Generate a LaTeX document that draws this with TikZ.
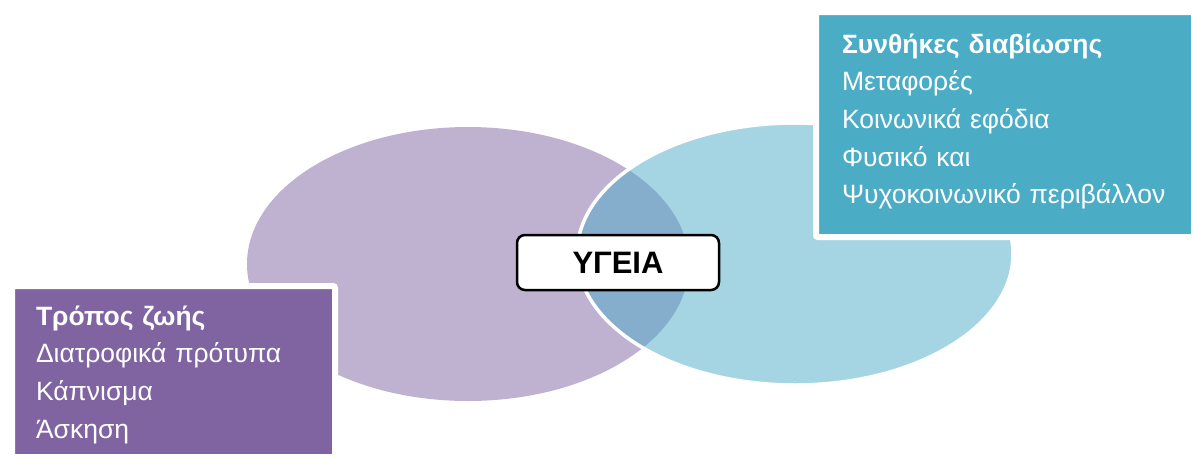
\documentclass[tikz,border=0pt]{standalone}
\usepackage{fontspec}
\setmainfont{Liberation Sans}
\usetikzlibrary{shapes.geometric,shadows}
\definecolor{lifeviolet}{HTML}{8064A2}
\definecolor{livingaqua}{HTML}{4BACC6}

\begin{document}
\begin{tikzpicture}[x=1pt, y=-1pt,
        blob/.style = {ellipse, inner sep=0pt, fill opacity=0.5},
        panel/.style = {rectangle, draw=white, line width=6pt, rounded corners=2pt,
            text=white, align=left, inner ysep=0pt, text height=22pt,
            drop shadow={opacity=0.3, shadow xshift=1pt, shadow yshift=-2.5pt}},
        listfont/.style = {font=\fontsize{26.5}{37.7}\selectfont}]
    \useasboundingbox (0,0) rectangle (1199,459);

    % Venn circles
    \node[blob, fill=lifeviolet, minimum width=442pt, minimum height=274pt] (life) at (468,264) {};
    \node[blob, fill=livingaqua, draw=white, draw opacity=1, line width=3.5pt,
          minimum width=436pt, minimum height=262pt] (living) at (795,254) {};

    % Lists
    \node[panel, listfont, fill=livingaqua, minimum width=378pt, minimum height=225pt,
          inner xsep=26pt, text width=326pt, text depth=165pt] (livingbox) at (1005,124.5)
        {\textbf{Συνθήκες διαβίωσης}\\ Μεταφορές\\ Κοινωνικά εφόδια\\ Φυσικό και\\ Ψυχοκοινωνικό περιβάλλον};
    \node[panel, listfont, fill=lifeviolet, minimum width=323pt, minimum height=171pt,
          inner xsep=24pt, text width=275pt, text depth=115pt] (lifebox) at (173.5,371.5)
        {\textbf{Τρόπος ζωής}\\ Διατροφικά πρότυπα\\ Κάπνισμα\\ Άσκηση};

    % Centre label
    \node[draw=black, line width=2.5pt, rounded corners=8pt, fill=white,
          minimum width=202pt, minimum height=55pt,
          font=\fontsize{31}{36}\selectfont\bfseries] (health) at (618,262.5) {ΥΓΕΙΑ};
\end{tikzpicture}
\end{document}
